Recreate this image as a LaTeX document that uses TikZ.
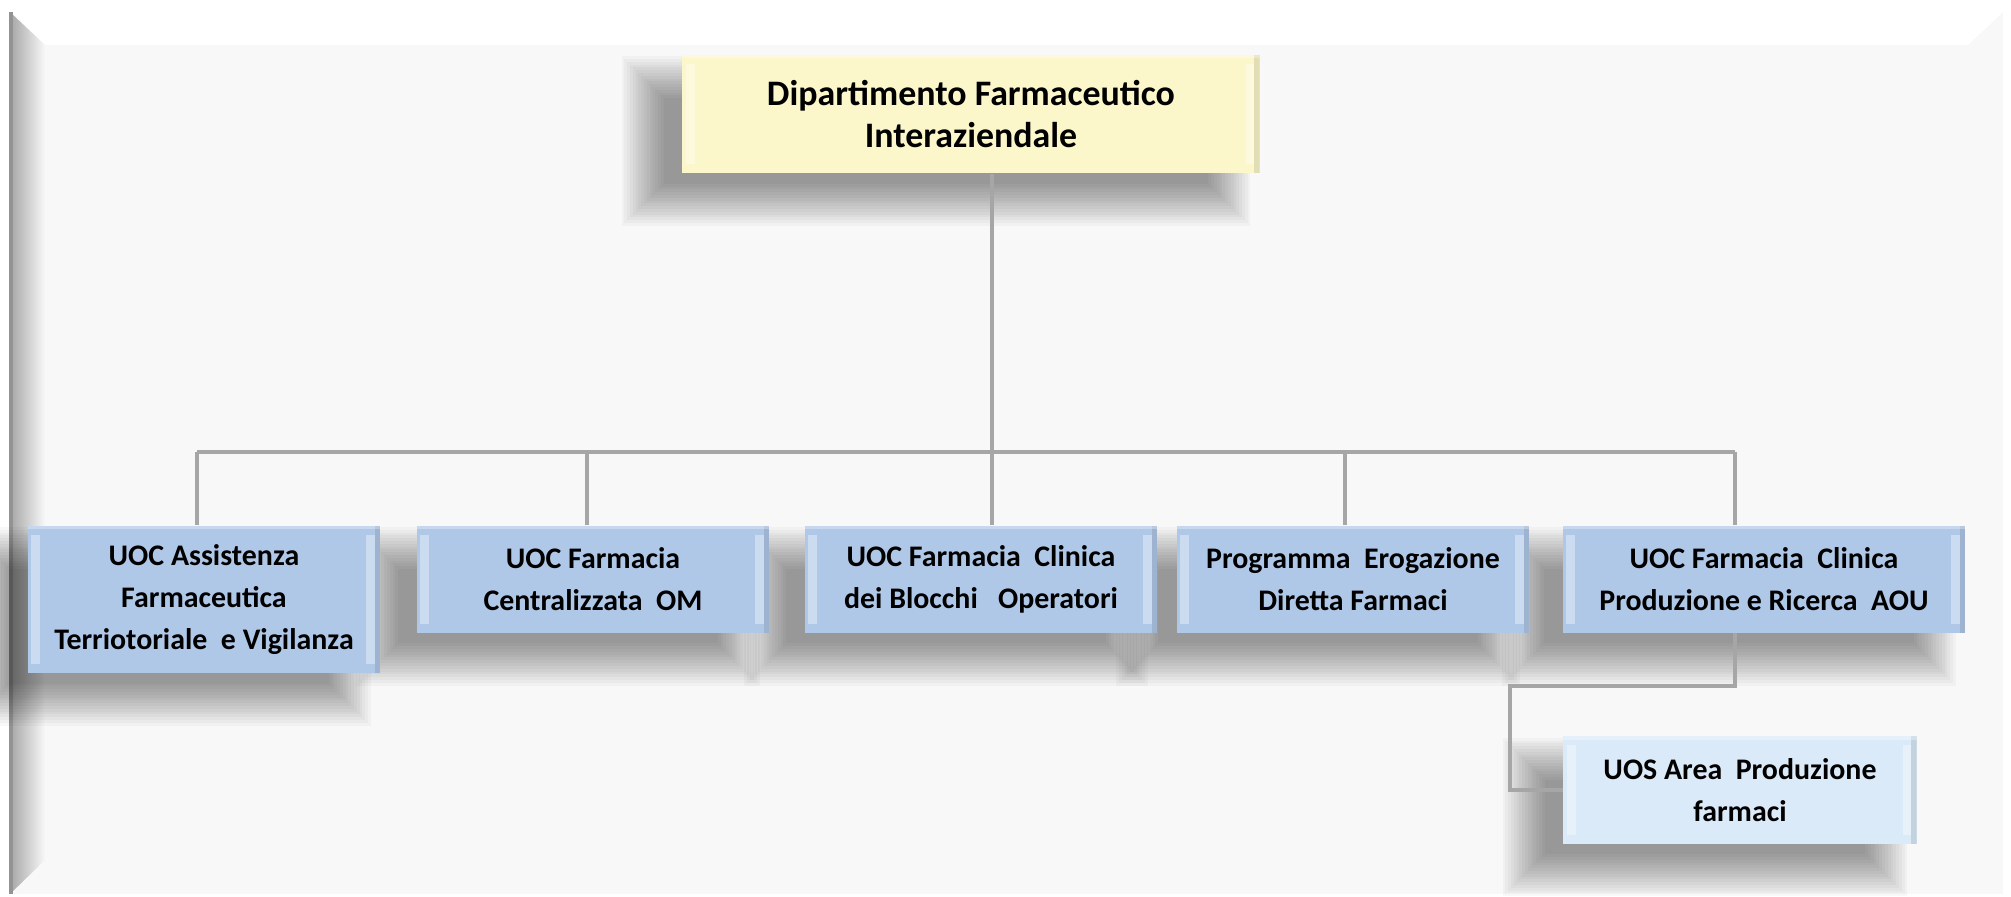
\documentclass[tikz,border=0pt]{standalone}
\usepackage{fontspec}
\setmainfont{Carlito}
\usepackage{tikz}
\usetikzlibrary{positioning,backgrounds}

\definecolor{panel}{RGB}{248,248,248}
\definecolor{deptyellow}{RGB}{251,247,202}
\definecolor{uocblue}{RGB}{176,200,232}
\definecolor{uosblue}{RGB}{219,234,248}
\definecolor{linkgray}{RGB}{166,166,166}

\begin{document}
\begin{tikzpicture}[x=0.01cm,y=-0.01cm,
            bevel/.style={path picture={
              \fill[white,opacity=.35] ([xshift=1pt,yshift=-2.5pt]path picture bounding box.north west) rectangle ([xshift=3.5pt,yshift=2.5pt]path picture bounding box.south west);
              \fill[white,opacity=.35] ([xshift=-1.5pt,yshift=-2.5pt]path picture bounding box.north east) rectangle ([xshift=-4pt,yshift=2.5pt]path picture bounding box.south east);
              \fill[black,opacity=.1] ([xshift=-1.5pt]path picture bounding box.north east) rectangle (path picture bounding box.south east);
              \fill[white,opacity=.3] (path picture bounding box.north west) rectangle ([yshift=-1pt]path picture bounding box.north east);
            }},
            unit/.style={rectangle,bevel,align=center,minimum width=3.52cm,minimum height=1.07cm,
              font=\fontsize{8.5}{12}\selectfont\bfseries,fill=uocblue},
            dept/.style={unit,fill=deptyellow,minimum width=5.77cm,minimum height=1.18cm,
              font=\fontsize{10.2}{12}\selectfont\bfseries},
            uoc/.style={unit,anchor=north},
            uos/.style={unit,fill=uosblue,minimum width=3.53cm}
          ]
          \useasboundingbox (0,0) rectangle (2011,896);

          \node[dept] (top) at (971,114) {Dipartimento Farmaceutico\\Interaziendale};

          %units
          \node[uoc,minimum height=1.47cm] (b1) at (204,525) {UOC Assistenza\\Farmaceutica\\Terriotoriale~ e Vigilanza};
          \node[uoc] (b2) at (593,525) {UOC Farmacia\\Centralizzata~ OM};
          \node[uoc] (b3) at (981,525) {UOC Farmacia~ Clinica\\dei Blocchi~~ Operatori};
          \node[uoc] (b4) at (1353,525) {Programma~ Erogazione\\Diretta Farmaci};
          \node[uoc,minimum width=4.02cm] (b5) at (1764,525) {UOC Farmacia~ Clinica\\Produzione e Ricerca~ AOU};

          \node[uos] (sub) at (1740,790) {UOS Area~ Produzione\\farmaci};

          %panel and shadows
          \begin{scope}[on background layer]
          \fill[white] (0,0) rectangle (2011,896);
          \fill[panel] (10,12) rectangle (2003,894);
          \fill[white] (10,12) -- (2003,12) -- (1968,45) -- (45,45) -- cycle;
          \shade[left color=gray!70,right color=panel] (10,12) -- (45,45) -- (45,860) -- (10,894) -- cycle;
          \draw[gray!85,line width=1pt] (11,12) -- (11,894);
          \foreach \n in {top,b1,b2,b3,b4,b5,sub}
            \foreach \i in {0,...,15}
              \fill[black,opacity=.028]
                ([xshift=-0.6cm+\i*0.028cm,yshift=-0.52cm+\i*0.028cm]\n.south west) rectangle
                ([xshift=-0.1cm-\i*0.028cm,yshift=-0.02cm-\i*0.028cm]\n.north east);
          \end{scope}

          %links
          \coordinate (d1) at (197,452);
          \coordinate (d2) at (587,452);
          \coordinate (d3) at (992,452);
          \coordinate (d4) at (1345,452);
          \coordinate (d5) at (1735,452);
          \coordinate (k) at (1510,686);

          \begin{scope}[every path/.style={draw,line width=1.4pt,linkgray}]
          \path
          (top.south -| d3) edge (d3)
          (d1) edge (d5)
          (d1) edge (d1 |- b1.north)
          (d2) edge (d2 |- b2.north)
          (d3) edge (d3 |- b3.north)
          (d4) edge (d4 |- b4.north)
          (d5) edge (d5 |- b5.north)
          ;
          \path (b5.south -| d5) |- (k) |- (sub.west);
          \end{scope}

      \end{tikzpicture}
\end{document}
